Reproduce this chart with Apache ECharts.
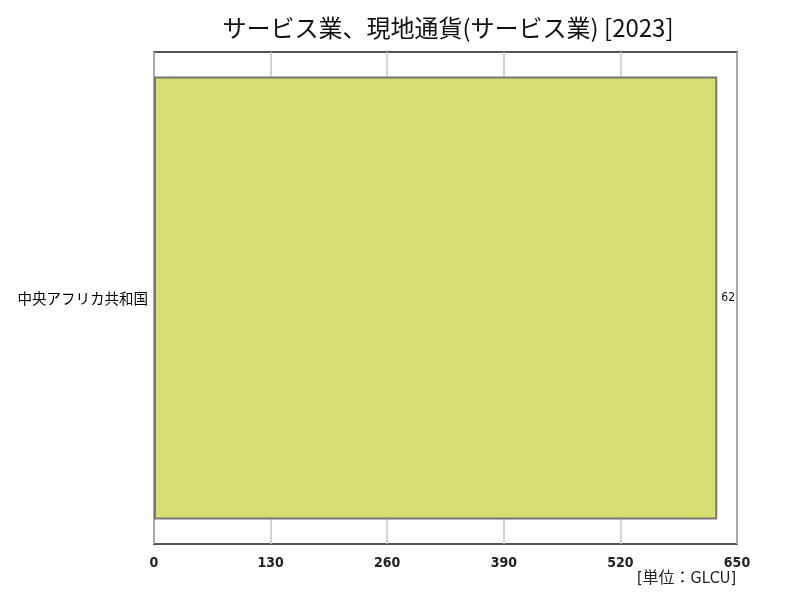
<!DOCTYPE html>
<html>
<head>
<meta charset="utf-8">
<script src="https://cdn.jsdelivr.net/npm/echarts@6/dist/echarts.min.js"></script>
<style>
  html, body { margin: 0; padding: 0; background: #fff; }
  #chart { width: 800px; height: 600px; }
</style>
</head>
<body>
<div id="chart"></div>
<script>
// データ
const categories = ['中央アフリカ共和国'];
const values = [628];
const tickMax = 650;
const tickStep = 130;

const narrow = '"DejaVu Sans Condensed", "Liberation Sans Narrow", sans-serif';

const chart = echarts.init(document.getElementById('chart'));

const option = {
  backgroundColor: '#fff',
  animation: false,
  title: {
    text: 'サービス業、現地通貨(サービス業) [2023]',
    left: 443,
    top: 11,
    textAlign: 'center',
    textStyle: {
      fontFamily: '"Noto Sans CJK JP", sans-serif',
      fontSize: 24,
      fontWeight: 'normal',
      color: '#111'
    }
  },
  grid: {
    left: 154,
    right: 63,
    top: 52,
    bottom: 56,
    show: true,
    borderColor: '#555',
    borderWidth: 2,
    containLabel: false
  },
  xAxis: {
    type: 'value',
    min: 0,
    max: tickMax,
    interval: tickStep,
    axisLine: { show: false },
    axisTick: { show: false },
    splitLine: { show: true, lineStyle: { color: '#c4c4c4', width: 1.5 } },
    axisLabel: {
      margin: 12,
      fontFamily: narrow,
      fontSize: 14,
      fontWeight: 'bold',
      color: '#222'
    }
  },
  yAxis: {
    type: 'category',
    data: categories,
    inverse: true,
    axisLine: { show: false },
    axisTick: { show: false },
    axisLabel: {
      margin: 6,
      fontFamily: '"Noto Sans CJK JP", sans-serif',
      fontSize: 14.5,
      color: '#000'
    }
  },
  series: [{
    type: 'bar',
    data: values,
    barCategoryGap: '10%',
    itemStyle: {
      color: '#d7dd6e',
      borderColor: '#777',
      borderWidth: 2
    },
    label: {
      show: true,
      position: 'right',
      distance: 4,
      width: 16,
      overflow: 'truncate',
      ellipsis: '',
      fontFamily: narrow,
      fontSize: 12,
      color: '#111'
    }
  }],
  graphic: [{
    type: 'text',
    right: 64,
    top: 571,
    style: {
      text: '[単位：GLCU]',
      font: '16px "DejaVu Sans Condensed", "Noto Sans CJK JP", sans-serif',
      fill: '#222'
    }
  }]
};

chart.setOption(option);
</script>
</body>
</html>
